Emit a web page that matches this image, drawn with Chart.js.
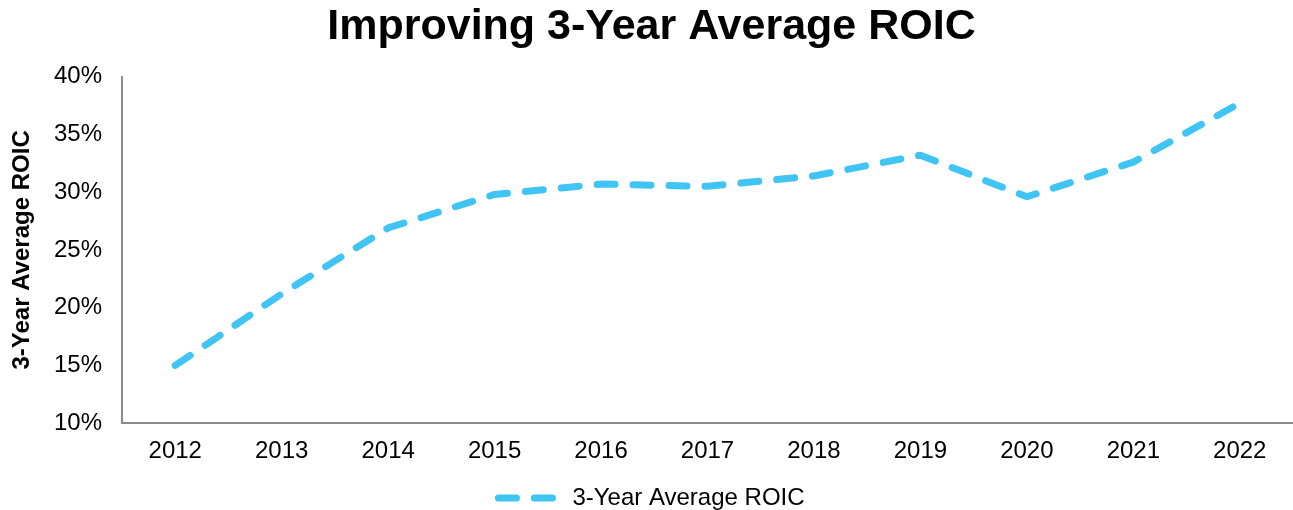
<!DOCTYPE html>
<html>
<head>
<meta charset="utf-8">
<script src="https://cdn.jsdelivr.net/npm/chart.js@4/dist/chart.umd.min.js"></script>
<style>
  html, body { margin: 0; padding: 0; background: #fff; }
  #wrap { width: 1293px; height: 510px; }
</style>
</head>
<body>
<div id="wrap"><canvas id="roicChart"></canvas></div>
<script>
const years = ['2012', '2013', '2014', '2015', '2016', '2017', '2018', '2019', '2020', '2021', '2022'];
const roic = [15.0, 21.2, 26.9, 29.8, 30.7, 30.5, 31.4, 33.2, 29.6, 32.6, 37.7];
const yTicks = [10, 15, 20, 25, 30, 35, 40];

const font = "'Liberation Sans', Arial, sans-serif";
Chart.defaults.font.family = font;
Chart.defaults.color = '#000';

const dash = [18, 18];

const ctx = document.getElementById('roicChart').getContext('2d');
const roicChart = new Chart(ctx, {
    type: 'line',
    data: {
        labels: years,
        datasets: [{
            label: '3-Year Average ROIC',
            data: roic,
            borderColor: '#40C4F4',
            backgroundColor: '#40C4F4',
            borderWidth: 7,
            borderDash: dash,
            borderCapStyle: 'round',
            borderJoinStyle: 'round',
            pointRadius: 0,
            tension: 0
        }]
    },
    options: {
        responsive: true,
        maintainAspectRatio: false,
        animation: false,
        layout: { padding: { left: 10, right: 0, top: 0, bottom: -10 } },
        plugins: {
            title: {
                display: true,
                text: 'Improving 3-Year Average ROIC',
                font: { size: 43, weight: 'bold' },
                padding: { top: 1, bottom: 24 }
            },
            legend: {
                position: 'bottom',
                labels: {
                    usePointStyle: true,
                    pointStyle: 'line',
                    pointStyleWidth: 62,
                    boxHeight: 12,
                    font: { size: 24 },
                    padding: 0,
                    generateLabels: chart => {
                        const items = Chart.defaults.plugins.legend.labels.generateLabels(chart);
                        items.forEach(it => {
                            it.lineDash = dash;
                            it.lineWidth = 7;
                            it.lineCap = 'round';
                            it.strokeStyle = '#40C4F4';
                        });
                        return items;
                    }
                }
            },
            tooltip: { enabled: false }
        },
        scales: {
            x: {
                offset: true,
                grid: { display: false, drawTicks: false },
                border: { color: '#8c8c8c', width: 2 },
                ticks: { font: { size: 24 }, padding: 14 },
                afterFit: scale => { scale.height += 6; }
            },
            y: {
                min: 10,
                max: 40,
                afterBuildTicks: axis => { axis.ticks = yTicks.map(v => ({ value: v })); },
                grid: { display: false, drawTicks: false },
                border: { color: '#8c8c8c', width: 2 },
                ticks: { font: { size: 24 }, padding: 20, callback: v => v + '%' },
                title: {
                    display: true,
                    text: '3-Year Average ROIC',
                    font: { size: 24, weight: 'bold', lineHeight: 1 },
                    padding: { top: 0, bottom: 0 }
                }
            }
        }
    }
});
</script>
</body>
</html>
